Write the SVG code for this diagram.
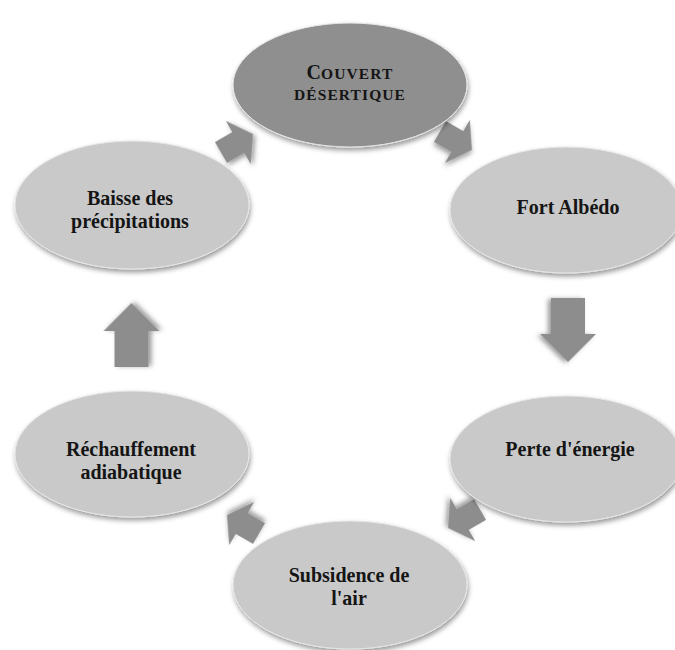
<svg xmlns="http://www.w3.org/2000/svg" width="675" height="650" viewBox="0 0 675 650">
<defs>
<filter id="sh" x="-20%" y="-20%" width="140%" height="150%">
<feDropShadow dx="1" dy="3" stdDeviation="2.5" flood-color="#000" flood-opacity="0.4"/>
</filter>
<polygon id="arrV" points="0,0 -28,-28 -28,-17 -64,-17 -64,17 -28,17 -28,28"/>
<polygon id="arrD" points="0,0 -17,-25 -17,-12 -37,-12 -37,12 -17,12 -17,25"/>
</defs>
<style>
.node{fill:#c9c9c9;stroke:#e6e6e6;stroke-width:1;filter:url(#sh)}
.dark{fill:#8f8f8f}
.arrow{fill:#8d8d8d;filter:url(#sh)}
text{font-family:"Liberation Serif","Times New Roman",serif;font-weight:bold;fill:#151515;text-anchor:middle}
.t{font-size:20px}
</style>
<g id="connectors">
<use href="#arrD" class="arrow" transform="translate(253,134) rotate(-30)"/>
<use href="#arrD" class="arrow" transform="translate(472,150) rotate(30)"/>
<use href="#arrV" class="arrow" transform="translate(568,362) rotate(90)"/>
<use href="#arrD" class="arrow" transform="translate(448,528) rotate(150)"/>
<use href="#arrD" class="arrow" transform="translate(227,515) rotate(210)"/>
<use href="#arrV" class="arrow" transform="translate(131.5,303) rotate(-90)"/>
</g>
<g id="couvert">
<ellipse class="node dark" cx="350" cy="85" rx="117" ry="62"/>
<text x="350" y="79"><tspan font-size="20">C</tspan><tspan font-size="15.5" letter-spacing="1.1">OUVERT</tspan></text>
<text x="350" y="100" font-size="15.5" letter-spacing="1.1">DÉSERTIQUE</text>
</g>
<g id="fort">
<ellipse class="node" cx="566" cy="210" rx="116" ry="63"/>
<text class="t" x="568" y="214">Fort Albédo</text>
</g>
<g id="perte">
<ellipse class="node" cx="566" cy="459" rx="116" ry="63"/>
<text class="t" x="570" y="456">Perte d'énergie</text>
</g>
<g id="subsidence">
<ellipse class="node" cx="350" cy="585" rx="117" ry="64"/>
<text class="t" x="349" y="582">Subsidence de</text>
<text class="t" x="349" y="605">l'air</text>
</g>
<g id="rechauffement">
<ellipse class="node" cx="132" cy="454" rx="117" ry="63"/>
<text class="t" x="131" y="456">Réchauffement</text>
<text class="t" x="131" y="479">adiabatique</text>
</g>
<g id="baisse">
<ellipse class="node" cx="132" cy="205" rx="117" ry="64"/>
<text class="t" x="130" y="205">Baisse des</text>
<text class="t" x="130" y="228">précipitations</text>
</g>
</svg>
